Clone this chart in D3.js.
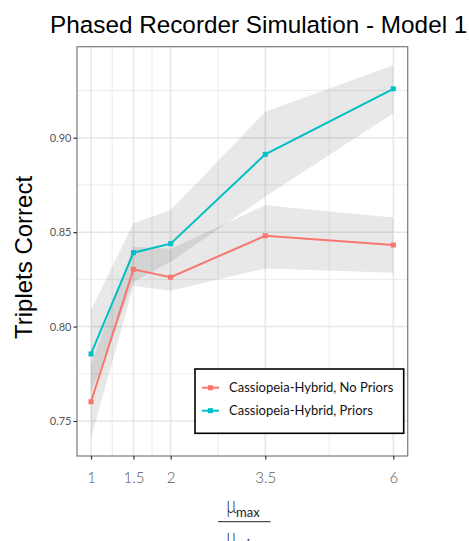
<!DOCTYPE html>
<html><head><meta charset="utf-8">
<script src="https://cdn.jsdelivr.net/npm/d3@7"></script>
<style>body{margin:0;background:#fff}svg{display:block}</style>
</head><body>
<svg id="c" width="469" height="541"></svg>
<script>
const xValues = [1, 1.5, 2, 3.5, 6];
const xTickLabels = ["1", "1.5", "2", "3.5", "6"];
const yTicks = [0.75, 0.80, 0.85, 0.90];
const yTickLabels = ["0.75", "0.80", "0.85", "0.90"];
const yMinor = [0.775, 0.825, 0.875, 0.925];
const seriesNames = ["Cassiopeia-Hybrid, No Priors", "Cassiopeia-Hybrid, Priors"];
const seriesColors = ["#F8766D", "#00BFC4"];
const noPriors = [0.7602, 0.8303, 0.8261, 0.8481, 0.8432];
const noPriorsLow = [0.7408, 0.8215, 0.8190, 0.8308, 0.8285];
const noPriorsHigh = [0.7800, 0.8423, 0.8412, 0.8643, 0.8578];
const priors = [0.7855, 0.8391, 0.8439, 0.8912, 0.9259];
const priorsLow = [0.7650, 0.8237, 0.8343, 0.8687, 0.9129];
const priorsHigh = [0.8088, 0.8547, 0.8617, 0.9137, 0.9384];

const svg = d3.select("#c");
const P = {l: 77, r: 407.7, t: 46.7, b: 456};
const x = d3.scalePow().exponent(0.62).domain([1, 6]).range([91, 393.3]);
const y = d3.scaleLinear().domain([0.75, 0.90]).range([421, 137.7]);

svg.append("rect").attr("x", P.l).attr("y", P.t).attr("width", P.r - P.l).attr("height", P.b - P.t).attr("fill", "#fff");

const g = svg.append("g");
const xMinor = d3.pairs(xValues).map(([a, b]) => x.invert((x(a) + x(b)) / 2));
g.selectAll(".xm").data(xMinor).join("line").attr("x1", d => x(d)).attr("x2", d => x(d))
  .attr("y1", P.t).attr("y2", P.b).attr("stroke", "#ebebeb").attr("stroke-width", 1);
g.selectAll(".ym").data(yMinor).join("line").attr("y1", d => y(d)).attr("y2", d => y(d))
  .attr("x1", P.l).attr("x2", P.r).attr("stroke", "#ebebeb").attr("stroke-width", 1);
g.selectAll(".xM").data(xValues).join("line").attr("x1", d => x(d)).attr("x2", d => x(d))
  .attr("y1", P.t).attr("y2", P.b).attr("stroke", "#e6e6e6").attr("stroke-width", 1.5);
g.selectAll(".yM").data(yTicks).join("line").attr("y1", d => y(d)).attr("y2", d => y(d))
  .attr("x1", P.l).attr("x2", P.r).attr("stroke", "#e6e6e6").attr("stroke-width", 1.5);

const area = d3.area().x(d => x(d.x)).y0(d => y(d.lo)).y1(d => y(d.hi));
const rib = (lo, hi) => xValues.map((v, i) => ({x: v, lo: lo[i], hi: hi[i]}));
[rib(noPriorsLow, noPriorsHigh), rib(priorsLow, priorsHigh)].forEach(r => {
  svg.append("path").attr("d", area(r)).attr("fill", "#000").attr("fill-opacity", 0.09);
});

const line = d3.line().x(d => x(d.x)).y(d => y(d.y));
[noPriors, priors].forEach((s, k) => {
  const pts = xValues.map((v, i) => ({x: v, y: s[i]}));
  svg.append("path").attr("d", line(pts)).attr("fill", "none").attr("stroke", seriesColors[k]).attr("stroke-width", 2);
  svg.selectAll(null).data(pts).join("rect").attr("x", d => x(d.x) - 2.5).attr("y", d => y(d.y) - 2.5)
    .attr("width", 5).attr("height", 5).attr("fill", seriesColors[k]);
});

svg.append("rect").attr("x", P.l).attr("y", P.t).attr("width", P.r - P.l).attr("height", P.b - P.t)
  .attr("fill", "none").attr("stroke", "#7a7a7a").attr("stroke-width", 1.2);

const yAxis = svg.append("g").attr("transform", `translate(${P.l},0)`)
  .call(d3.axisLeft(y).tickValues(yTicks).tickFormat((d, i) => yTickLabels[i]).tickSize(3.5).tickPadding(2));
yAxis.select(".domain").remove();
yAxis.selectAll("line").attr("stroke", "#333").attr("stroke-width", 1.2);
yAxis.selectAll("text").attr("fill", "#555").style("font-family", "Lato, sans-serif").style("font-size", "11px");

const xAxis = svg.append("g").attr("transform", `translate(0,${P.b})`)
  .call(d3.axisBottom(x).tickValues(xValues).tickFormat((d, i) => xTickLabels[i]).tickSize(3.5).tickPadding(13));
xAxis.select(".domain").remove();
xAxis.selectAll("line").attr("stroke", "#333").attr("stroke-width", 1.2);
xAxis.selectAll("text").attr("fill", "#555").style("font-family", "Lato, sans-serif").style("font-weight", 300).style("font-size", "15px");

svg.append("text").attr("x", 50).attr("y", 33).text("Phased Recorder Simulation - Model 1")
  .style("font-family", "'Liberation Sans', Arial, sans-serif").style("font-size", "24.3px").attr("fill", "#000");
svg.append("text").attr("transform", "translate(31.5,257.5) rotate(-90)").attr("text-anchor", "middle")
  .text("Triplets Correct").style("font-family", "'Liberation Sans', Arial, sans-serif").style("font-size", "24px");

const ft = svg.append("g").style("font-family", "Lato, sans-serif").attr("fill", "#222");
ft.append("text").attr("transform", "translate(226.5,513) scale(0.72,1)").text("μ").style("font-size", "23px").style("font-weight", 300);
ft.append("text").attr("x", 236).attr("y", 516.5).text("max").style("font-size", "13px");
ft.append("line").attr("x1", 218).attr("x2", 270.5).attr("y1", 521.7).attr("y2", 521.7).attr("stroke", "#222").attr("stroke-width", 1);
ft.append("text").attr("transform", "translate(226.5,545) scale(0.72,1)").text("μ").style("font-size", "23px").style("font-weight", 300);
ft.append("text").attr("x", 236).attr("y", 549).text("min").style("font-size", "13px");

const L = svg.append("g");
L.append("rect").attr("x", 195).attr("y", 369).attr("width", 208.7).attr("height", 64.3)
  .attr("fill", "#fff").attr("stroke", "#000").attr("stroke-width", 1.6);
seriesNames.forEach((n, k) => {
  const cy = 387.7 + k * 23;
  L.append("line").attr("x1", 202).attr("x2", 219).attr("y1", cy).attr("y2", cy).attr("stroke", seriesColors[k]).attr("stroke-width", 2);
  L.append("rect").attr("x", 208).attr("y", cy - 2.5).attr("width", 5).attr("height", 5).attr("fill", seriesColors[k]);
  L.append("text").attr("x", 229).attr("y", cy + 4.5).text(n).style("font-family", "Lato, sans-serif").style("font-size", "13px").attr("fill", "#111");
});
</script>
</body></html>
